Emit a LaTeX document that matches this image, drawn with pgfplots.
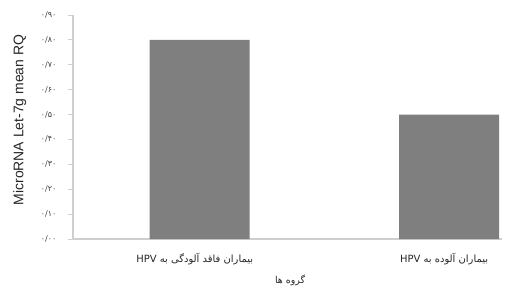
\documentclass[border=0pt]{standalone}
\usepackage{pgfplots}
\pgfplotsset{compat=1.18}
\usepackage{fontspec}
\setmainfont{Liberation Sans}
\TeXXeTstate=1
\newfontfamily\arabicfont[Script=Arabic]{DejaVu Sans}
\newfontfamily\digitfont{DejaVu Sans}
\definecolor{barc}{HTML}{7F7F7F}
\definecolor{axc}{HTML}{CFCFCF}
\begin{document}
\begin{tikzpicture}
\useasboundingbox (-73bp,-49bp) rectangle (439bp,239bp);
\begin{axis}[
  at={(0,0)}, anchor=south west, scale only axis,
  width=429bp, height=224bp,
  xmin=-0.508, xmax=1.212, ymin=0, ymax=0.9,
  axis lines=left, axis line style={axc, line width=1.2bp, -},
  ytick={0,0.1,0.2,0.3,0.4,0.5,0.6,0.7,0.8,0.9},
  yticklabels={۰/۰۰,۰/۱۰,۰/۲۰,۰/۳۰,۰/۴۰,۰/۵۰,۰/۶۰,۰/۷۰,۰/۸۰,۰/۹۰},
  xtick={0,1},
  xticklabels={{\beginR بیماران فاقد آلودگی به \beginL HPV\endL\endR},{\beginR بیماران آلوده به \beginL HPV\endL\endR}},
  x tick style={draw=none},
  y tick style={axc, line width=0.8bp},
  tick align=outside, major tick length=5bp,
  yticklabel style={font=\digitfont\fontsize{8}{9}\selectfont, text=black!75, xshift=-8bp},
  xticklabel style={font=\arabicfont\fontsize{10}{12}\selectfont, text=black!85, yshift=-6bp, xshift=-5bp},
  ylabel={MicroRNA Let-7g mean RQ},
  ylabel style={font=\fontsize{14}{16}\selectfont, text=black!85, at={(axis description cs:-0.124,0.531)}, anchor=center},
  xlabel={\beginR گروه ها\endR},
  xlabel style={font=\arabicfont\fontsize{9.5}{11}\selectfont, text=black!85, at={(axis description cs:0.506,0)}, yshift=-41bp, anchor=center},
  ybar, bar width=100bp, bar shift=0pt,
]
\addplot[fill=barc, draw=none] coordinates {(0,0.80) (1,0.50)};
\end{axis}
\end{tikzpicture}
\end{document}
